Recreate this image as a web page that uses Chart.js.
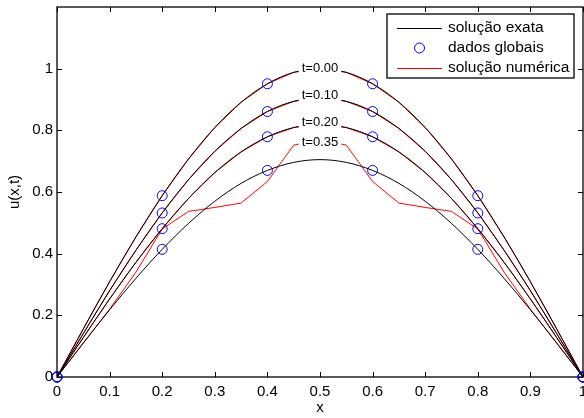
<!DOCTYPE html>
<html>
<head>
<meta charset="utf-8">
<script src="https://cdn.jsdelivr.net/npm/chart.js@4.4.0/dist/chart.umd.min.js"></script>
<style>
  html, body { margin: 0; padding: 0; background: #fff; overflow: hidden; }
  #wrap { width: 600px; height: 418px; }
</style>
</head>
<body>
<div id="wrap"><canvas id="chart" width="600" height="418"></canvas></div>
<script>
// ================= DATA =================
const xCurve = [0, 0.05, 0.1, 0.15, 0.2, 0.25, 0.3, 0.35, 0.4, 0.45, 0.5, 0.55, 0.6, 0.65, 0.7, 0.75, 0.8, 0.85, 0.9, 0.95, 1];

// exact solution, one array per time
const exact00 = [0, 0.156, 0.309, 0.454, 0.588, 0.707, 0.809, 0.891, 0.951, 0.988, 1.000, 0.988, 0.951, 0.891, 0.809, 0.707, 0.588, 0.454, 0.309, 0.156, 0];
const exact10 = [0, 0.141, 0.280, 0.411, 0.532, 0.640, 0.732, 0.806, 0.861, 0.894, 0.905, 0.894, 0.861, 0.806, 0.732, 0.640, 0.532, 0.411, 0.280, 0.141, 0];
const exact20 = [0, 0.128, 0.253, 0.372, 0.481, 0.579, 0.663, 0.730, 0.779, 0.809, 0.819, 0.809, 0.779, 0.730, 0.663, 0.579, 0.481, 0.372, 0.253, 0.128, 0];
const exact35 = [0, 0.110, 0.218, 0.320, 0.414, 0.498, 0.570, 0.628, 0.670, 0.696, 0.705, 0.696, 0.670, 0.628, 0.570, 0.498, 0.414, 0.320, 0.218, 0.110, 0];

// numerical solution (first three sit on top of the exact ones)
const num00 = [0, 0.156, 0.309, 0.454, 0.588, 0.707, 0.809, 0.891, 0.951, 0.988, 1.000, 0.988, 0.951, 0.891, 0.809, 0.707, 0.588, 0.454, 0.309, 0.156, 0];
const num10 = [0, 0.141, 0.280, 0.411, 0.532, 0.640, 0.732, 0.806, 0.861, 0.894, 0.905, 0.894, 0.861, 0.806, 0.732, 0.640, 0.532, 0.411, 0.280, 0.141, 0];
const num20 = [0, 0.128, 0.253, 0.372, 0.481, 0.579, 0.663, 0.730, 0.779, 0.809, 0.819, 0.809, 0.779, 0.730, 0.663, 0.579, 0.481, 0.372, 0.253, 0.128, 0];
const num35 = [0, 0.110, 0.220, 0.340, 0.480, 0.537, 0.550, 0.564, 0.634, 0.752, 0.770, 0.752, 0.634, 0.564, 0.550, 0.537, 0.480, 0.340, 0.220, 0.110, 0];

// global data (circles)
const xGlobal = [0, 0.2, 0.4, 0.6, 0.8, 1];
const global00 = [0, 0.588, 0.951, 0.951, 0.588, 0];
const global10 = [0, 0.532, 0.861, 0.861, 0.532, 0];
const global20 = [0, 0.481, 0.779, 0.779, 0.481, 0];
const global35 = [0, 0.414, 0.670, 0.670, 0.414, 0];

// time labels
const tLabels = ['t=0.00', 't=0.10', 't=0.20', 't=0.35'];
const tLabelX = 0.5;
const tLabelY = [1.004, 0.916, 0.826, 0.764];

// ticks
const xTicks = [0, 0.1, 0.2, 0.3, 0.4, 0.5, 0.6, 0.7, 0.8, 0.9, 1];
const xTickLabels = ['0', '0.1', '0.2', '0.3', '0.4', '0.5', '0.6', '0.7', '0.8', '0.9', '1'];
const yTicks = [0, 0.2, 0.4, 0.6, 0.8, 1];
const yTickLabels = ['0', '0.2', '0.4', '0.6', '0.8', '1'];

const legendLabels = ['solução exata', 'dados globais', 'solução numérica'];

// ================= HELPERS =================
const FONT = '"Liberation Sans", Arial, Helvetica, sans-serif';
const pts = (xs, ys) => xs.map((x, i) => ({ x: x, y: ys[i] }));

function curve(ys, color, smooth) {
    return {
        data: pts(xCurve, ys),
        showLine: true,
        borderColor: color,
        borderWidth: 1,
        pointRadius: 0,
        pointHoverRadius: 0,
        cubicInterpolationMode: smooth ? 'monotone' : 'default',
        tension: 0,
        fill: false
    };
}

const circleData = []
    .concat(pts(xGlobal, global00), pts(xGlobal, global10), pts(xGlobal, global20), pts(xGlobal, global35));

// ================= PLUGINS =================
// box round the plot with inward tick marks, MATLAB style
const framePlugin = {
    id: 'frame',
    beforeDatasetsDraw(chart) {
        const { ctx, chartArea: a, scales } = chart;
        ctx.save();
        ctx.strokeStyle = '#000';
        ctx.lineWidth = 1.3;
        ctx.strokeRect(a.left, a.top, a.right - a.left, a.bottom - a.top);
        ctx.lineWidth = 1;
        ctx.beginPath();
        xTicks.forEach(v => {
            const px = Math.round(scales.x.getPixelForValue(v)) + 0.5;
            ctx.moveTo(px, a.bottom); ctx.lineTo(px, a.bottom - 5);
            ctx.moveTo(px, a.top); ctx.lineTo(px, a.top + 5);
        });
        yTicks.forEach(v => {
            const py = Math.round(scales.y.getPixelForValue(v)) + 0.5;
            ctx.moveTo(a.left, py); ctx.lineTo(a.left + 5, py);
            ctx.moveTo(a.right, py); ctx.lineTo(a.right - 5, py);
        });
        ctx.stroke();
        ctx.restore();
    }
};

// "t=..." labels with white background over the curves
const timeLabelPlugin = {
    id: 'timeLabels',
    afterDatasetsDraw(chart) {
        const { ctx, scales } = chart;
        ctx.save();
        ctx.font = '13px ' + FONT;
        ctx.textAlign = 'center';
        ctx.textBaseline = 'middle';
        tLabels.forEach((txt, i) => {
            const px = scales.x.getPixelForValue(tLabelX);
            const py = scales.y.getPixelForValue(tLabelY[i]);
            const w = ctx.measureText(txt).width + 6;
            ctx.fillStyle = '#fff';
            ctx.fillRect(px - w / 2, py - 7, w, 14);
            ctx.fillStyle = '#000';
            ctx.fillText(txt, px, py + 0.5);
        });
        ctx.restore();
    }
};

// legend box in the top right corner
const legendPlugin = {
    id: 'boxLegend',
    afterDraw(chart) {
        const { ctx } = chart;
        const left = 387, top = 14, right = 574, bottom = 78;
        const rows = [28, 48, 68];
        ctx.save();
        ctx.fillStyle = '#fff';
        ctx.fillRect(left, top, right - left, bottom - top);
        ctx.strokeStyle = '#000';
        ctx.lineWidth = 1.3;
        ctx.strokeRect(left, top, right - left, bottom - top);

        ctx.lineWidth = 1;
        ctx.strokeStyle = '#000';
        ctx.beginPath(); ctx.moveTo(397, rows[0] + 0.5); ctx.lineTo(442, rows[0] + 0.5); ctx.stroke();
        ctx.strokeStyle = '#0000ff';
        ctx.beginPath(); ctx.arc(419.5, rows[1], 5, 0, Math.PI * 2); ctx.stroke();
        ctx.strokeStyle = '#ff0000';
        ctx.beginPath(); ctx.moveTo(397, rows[2] + 0.5); ctx.lineTo(442, rows[2] + 0.5); ctx.stroke();

        ctx.fillStyle = '#000';
        ctx.font = '15.5px ' + FONT;
        ctx.textAlign = 'left';
        ctx.textBaseline = 'middle';
        legendLabels.forEach((txt, i) => ctx.fillText(txt, 448, rows[i]));
        ctx.restore();
    }
};

// ================= CHART =================
const ctx = document.getElementById('chart').getContext('2d');
new Chart(ctx, {
    type: 'scatter',
    data: {
        datasets: [
            curve(exact00, '#000', true),
            curve(exact10, '#000', true),
            curve(exact20, '#000', true),
            curve(exact35, '#000', true),
            {
                data: circleData,
                showLine: false,
                pointStyle: 'circle',
                pointRadius: 5,
                pointHoverRadius: 5,
                pointBorderWidth: 1,
                pointBorderColor: '#0000ff',
                pointBackgroundColor: 'rgba(0,0,0,0)',
                clip: false
            },
            curve(num00, '#ff0000', false),
            curve(num10, '#ff0000', false),
            curve(num20, '#ff0000', false),
            curve(num35, '#ff0000', false)
        ]
    },
    options: {
        responsive: false,
        animation: false,
        events: [],
        layout: { padding: { left: 0, top: 7, right: 17, bottom: 0 } },
        plugins: {
            legend: { display: false },
            tooltip: { enabled: false }
        },
        scales: {
            x: {
                type: 'linear',
                min: 0, max: 1,
                afterBuildTicks: s => { s.ticks = xTicks.map(v => ({ value: v })); },
                afterFit: s => { s.height = 41; s.paddingLeft = 0; s.paddingRight = 0; },
                grid: { display: false, drawTicks: false },
                border: { display: false },
                ticks: {
                    color: '#000', padding: 6, maxRotation: 0, autoSkip: false,
                    font: { family: FONT, size: 15 },
                    callback: (v, i) => xTickLabels[i]
                },
                title: {
                    display: true, text: 'x', color: '#000', padding: { top: 0, bottom: 1 },
                    font: { family: FONT, size: 15 }
                }
            },
            y: {
                type: 'linear',
                min: 0, max: 1.2,
                afterBuildTicks: s => { s.ticks = yTicks.map(v => ({ value: v })); },
                afterFit: s => { s.width = 57; s.paddingTop = 0; s.paddingBottom = 0; },
                grid: { display: false, drawTicks: false },
                border: { display: false },
                ticks: {
                    color: '#000', padding: 4, autoSkip: false,
                    font: { family: FONT, size: 15 },
                    callback: (v, i) => yTickLabels[i]
                },
                title: {
                    display: true, text: 'u(x,t)', color: '#000', padding: { top: 6, bottom: 0 },
                    font: { family: FONT, size: 15 }
                }
            }
        }
    },
    plugins: [framePlugin, timeLabelPlugin, legendPlugin]
});
</script>
</body>
</html>
